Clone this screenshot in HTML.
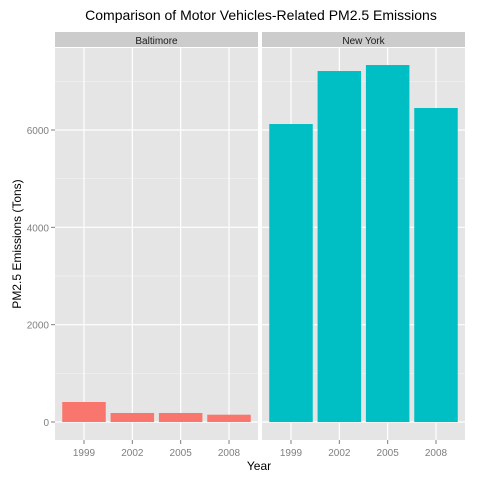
<!DOCTYPE html>
<html><head><meta charset="utf-8"><style>
html,body{margin:0;padding:0;background:#fff;}
svg{display:block;font-family:"Liberation Sans",Arial,sans-serif;}
</style></head><body>
<svg id="chart" width="480" height="480">
<text x="261" y="20" text-anchor="middle" font-size="14" fill="#000">Comparison of Motor Vehicles-Related PM2.5 Emissions</text>
<text x="259" y="470" text-anchor="middle" font-size="12" fill="#000">Year</text>
<text transform="translate(21,244) rotate(-90)" text-anchor="middle" font-size="12" fill="#000">PM2.5 Emissions (Tons)</text>
<g id="plot"></g>
</svg>
<script>
const years = ["1999","2002","2005","2008"];
const cities = ["Baltimore","New York"];
const baltimoreValues = [411, 185, 185, 150];
const newYorkValues = [6123, 7212, 7335, 6452];
const yTicks = [0, 2000, 4000, 6000];
const seriesValues = [baltimoreValues, newYorkValues];
const colors = ["#F8766D","#00BFC4"];
const NS = "http://www.w3.org/2000/svg";
const plotG = document.getElementById("plot");
const panelX = [55, 262], panelW = 203, panelTop = 48, panelBottom = 440;
const yScale = v => 422 - v * 0.048667;
function xc(i, px){ return px + (i + 1 - 0.4) * (panelW / 4.2); }
function mk(tag, attrs){ const e = document.createElementNS(NS, tag); for (const k in attrs) e.setAttribute(k, attrs[k]); plotG.appendChild(e); return e; }
cities.forEach((c, p) => {
  const px = panelX[p];
  const bg = mk("rect", {x:px, y:panelTop, width:panelW, height:panelBottom-panelTop, fill:"#E5E5E5"});
  
  
  yTicks.forEach(t => {
    const mid = t + 1000;
    mk("line", {x1:px, x2:px+panelW, y1:yScale(mid), y2:yScale(mid), stroke:"#F2F2F2", "stroke-width":0.7});
    mk("line", {x1:px, x2:px+panelW, y1:yScale(t), y2:yScale(t), stroke:"#fff", "stroke-width":1.2});
  });
  years.forEach((yr, i) => {
    mk("line", {x1:xc(i,px), x2:xc(i,px), y1:panelTop, y2:panelBottom, stroke:"#fff", "stroke-width":1.2});
  });
  const strip = mk("rect", {x:px, y:32, width:panelW, height:15, fill:"#CCCCCC"});
  
  
  const st = mk("text", {x:px+panelW/2, y:44, "text-anchor":"middle", "font-size":10, fill:"#1a1a1a"});
  st.textContent = c;
  
  
  seriesValues[p].forEach((v, i) => {
    const bw = 0.9 * panelW / 4.2;
    const b = mk("rect", {x:xc(i,px)-bw/2, y:yScale(v), width:bw, height:yScale(0)-yScale(v), fill:colors[p]});
    
    
  });
  years.forEach((yr, i) => {
    mk("line", {x1:xc(i,px), x2:xc(i,px), y1:panelBottom, y2:panelBottom+4, stroke:"#7f7f7f"});
    const t = mk("text", {x:xc(i,px), y:panelBottom+16, "text-anchor":"middle", "font-size":10, fill:"#7f7f7f"});
    t.textContent = yr;
    
    
  });
});
yTicks.forEach(t => {
  mk("line", {x1:51, x2:55, y1:yScale(t), y2:yScale(t), stroke:"#7f7f7f"});
  const l = mk("text", {x:49, y:yScale(t)+4, "text-anchor":"end", "font-size":10, fill:"#7f7f7f"});
  l.textContent = t;
  
  
});
</script>
</body></html>
